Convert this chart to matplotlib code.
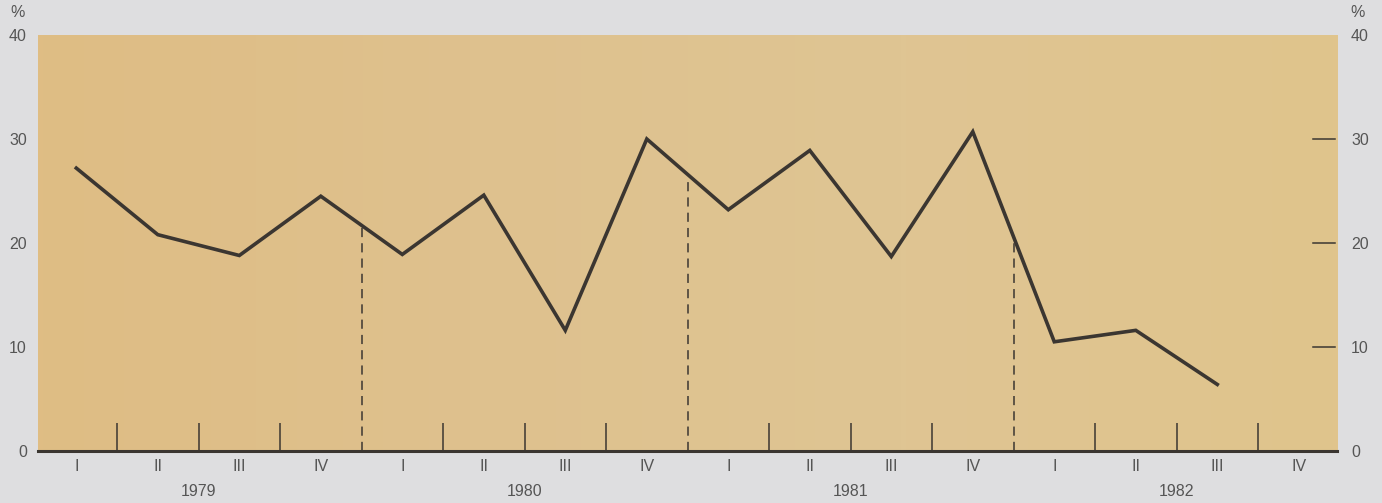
import numpy as np
import matplotlib
matplotlib.use("Agg")
import matplotlib.pyplot as plt
from matplotlib.transforms import blended_transform_factory

# --- data ---
years = ["1979", "1980", "1981", "1982"]
quarters = ["I", "II", "III", "IV"]
values = [27.2, 20.8, 18.8, 24.5, 18.9, 24.6, 11.6, 30.0,
          23.2, 28.9, 18.7, 30.7, 10.5, 11.6, 6.4]
yticks = [0, 10, 20, 30, 40]

TXT = "#555555"
LINE = "#3b3631"
plt.rcParams["font.family"] = ["Liberation Sans", "DejaVu Sans"]

fig = plt.figure(figsize=(13.82, 5.03), dpi=100)
fig.patch.set_facecolor("#dedee0")
ax = fig.add_axes([0.0275, 0.1034, 0.94, 0.827])

n_q = len(years) * len(quarters)
ax.set_xlim(-0.47, n_q - 0.53)
ax.set_ylim(0, 40)

# background gradient (slightly more orange on left, paler in the middle)
grad = np.linspace(0, 1, 256).reshape(1, -1)
cmap = matplotlib.colors.LinearSegmentedColormap.from_list(
    "bg", ["#dfbd84", "#dec18e", "#dfc593", "#e0c48c"])
ax.imshow(grad, extent=[-0.47, n_q - 0.53, 0, 40], aspect="auto",
          cmap=cmap, zorder=0)

x = np.arange(len(values))
ax.plot(x, values, color=LINE, lw=2.6, solid_joinstyle="miter", zorder=4)

# quarter separators
for b in np.arange(0.5, n_q - 1, 1.0):
    if (b + 0.5) % 4 == 0:
        top = np.interp(b, x, values)
        ax.vlines(b, 0, top, color=LINE, lw=1.1, linestyles=(0, (6, 4)), zorder=3)
    else:
        ax.vlines(b, 0, 2.7, color=LINE, lw=1.1, zorder=3)

ax.axhline(0, color=LINE, lw=2.2, zorder=5, clip_on=False)

for s in ax.spines.values():
    s.set_visible(False)

# x labels
ax.set_xticks(np.arange(n_q))
ax.set_xticklabels(quarters * len(years), color=TXT, fontsize=11.5)
ax.tick_params(axis="x", length=0, pad=6)
tr = blended_transform_factory(ax.transData, ax.transAxes)
for i, yr in enumerate(years):
    ax.text(i * 4 + 1.5, -0.08, yr, transform=tr, ha="center", va="top",
            color=TXT, fontsize=11.5)

# left y labels
ax.set_yticks(yticks)
ax.set_yticklabels([str(v) for v in yticks], color=TXT, fontsize=11.5)
ax.tick_params(axis="y", length=0, pad=8)

# right y axis
ax2 = ax.twinx()
ax2.set_ylim(0, 40)
ax2.set_yticks(yticks)
ax2.set_yticklabels([str(v) for v in yticks], color=TXT, fontsize=11.5)
ax2.tick_params(axis="y", length=0, pad=10)
for s in ax2.spines.values():
    s.set_visible(False)
for v in yticks[1:-1]:
    ax.plot([n_q - 0.82, n_q - 0.55], [v, v], color=LINE, lw=1.1, zorder=3)

ax.text(-0.016, 1.035, "%", transform=ax.transAxes, ha="center", va="bottom",
        color=TXT, fontsize=11.5)
ax.text(1.016, 1.035, "%", transform=ax.transAxes, ha="center", va="bottom",
        color=TXT, fontsize=11.5)

fig.savefig("out.png", dpi=100, facecolor=fig.get_facecolor())
